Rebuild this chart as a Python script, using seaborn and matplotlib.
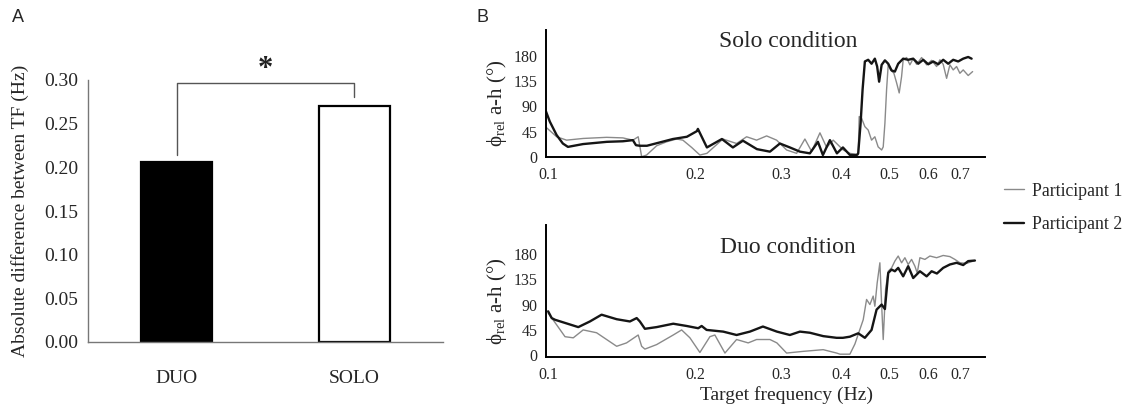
import numpy as np
import pandas as pd
import matplotlib
matplotlib.use("Agg")
import matplotlib.pyplot as plt
from matplotlib.ticker import FixedLocator, FixedFormatter, NullLocator
import seaborn as sns

# ---------------- data ----------------
conditions = ["DUO", "SOLO"]
abs_diff_tf = [0.206, 0.270]

solo_p1_freq = [0.0991, 0.1042, 0.1092, 0.1181, 0.1319, 0.1424, 0.1493, 0.1531, 0.1556, 0.1593,
                0.1670, 0.1750, 0.1835, 0.1890, 0.1970, 0.2048, 0.2117, 0.2283, 0.2435, 0.2553,
                0.2676, 0.2806, 0.2941, 0.3083, 0.3232, 0.3361, 0.3469, 0.3608, 0.3724, 0.3841,
                0.4027, 0.4156, 0.4322, 0.4342, 0.4391, 0.4460, 0.4530, 0.4603, 0.4675, 0.4748,
                0.4827, 0.4863, 0.4902, 0.4941, 0.4979, 0.5035, 0.5114, 0.5180, 0.5244, 0.5303,
                0.5343, 0.5430, 0.5515, 0.5602, 0.5693, 0.5829, 0.5968, 0.6110, 0.6256, 0.6354,
                0.6453, 0.6558, 0.6660, 0.6765, 0.6874, 0.6982, 0.7092, 0.7261, 0.7414]
solo_p1_phase = [53, 36, 30, 33, 35, 34, 30, 36, 0.5, 3.5,
                 20, 27, 32, 30, 17, 3.5, 6.5, 32, 24, 36,
                 30, 37.5, 30, 12.5, 6.5, 32, 10, 43, 17, 30,
                 12.5, 6.5, 4, 72, 69, 54, 48, 30, 36, 18,
                 12.5, 18, 60, 120, 164, 155, 149, 132, 114, 143,
                 173, 177, 164, 175, 165, 177, 164, 172, 161, 173,
                 165, 140, 164, 155, 161, 149, 155, 145, 152]

solo_p2_freq = [0.0991, 0.1009, 0.1042, 0.1073, 0.1099, 0.1180, 0.1321, 0.1424, 0.1493, 0.1515,
                0.1543, 0.1595, 0.1696, 0.1803, 0.1926, 0.2019, 0.2029, 0.2117, 0.2272, 0.2393,
                0.2509, 0.2680, 0.2850, 0.2987, 0.3131, 0.3283, 0.3441, 0.3574, 0.3659, 0.3782,
                0.3909, 0.4021, 0.4156, 0.4295, 0.4322, 0.4371, 0.4412, 0.4460, 0.4530, 0.4603,
                0.4675, 0.4726, 0.4770, 0.4827, 0.4902, 0.4979, 0.5059, 0.5138, 0.5219, 0.5343,
                0.5471, 0.5602, 0.5736, 0.5873, 0.6013, 0.6157, 0.6303, 0.6453, 0.6607, 0.6765,
                0.6926, 0.7092, 0.7261, 0.7379]
solo_p2_phase = [81, 63, 39, 24, 18, 23, 27, 28, 30, 21,
                 20, 20, 26, 32, 36, 46, 50, 17, 32, 17,
                 29, 14, 9.5, 24, 17, 9.5, 6.5, 27, 3.5, 30,
                 6.5, 17, 3.5, 3.6, 6.5, 60, 120, 170, 173, 166,
                 175, 161, 134, 164, 172, 166, 154, 152, 166, 175,
                 173, 175, 166, 173, 165, 170, 165, 173, 166, 173,
                 170, 175, 178, 175]

duo_p1_freq = [0.1001, 0.1042, 0.1084, 0.1127, 0.1181, 0.1258, 0.1319, 0.1383, 0.1449, 0.1531,
               0.1556, 0.1580, 0.1670, 0.1806, 0.1879, 0.1954, 0.2048, 0.2147, 0.2198, 0.2305,
               0.2435, 0.2572, 0.2676, 0.2850, 0.2945, 0.3083, 0.3334, 0.3664, 0.3903, 0.3965,
               0.4156, 0.4255, 0.4425, 0.4496, 0.4567, 0.4638, 0.4675, 0.4726, 0.4787, 0.4827,
               0.4863, 0.4918, 0.4979, 0.5059, 0.5138, 0.5219, 0.5303, 0.5387, 0.5471, 0.5559,
               0.5647, 0.5709, 0.5782, 0.5920, 0.6061, 0.6256, 0.6453, 0.6660, 0.6819, 0.6982,
               0.7206, 0.7434]
duo_p1_phase = [75, 54, 33, 31, 45, 40, 28, 16, 22, 36,
                16, 11, 19, 36, 45, 31, 5, 33, 36, 4,
                28, 22, 28, 28, 22, 4, 7, 10, 4, 2,
                2, 20, 63, 99, 90, 105, 87, 128, 164, 90,
                28, 117, 149, 155, 167, 176, 164, 173, 161, 170,
                158, 146, 173, 170, 176, 173, 177, 175, 170, 164,
                163, 167]

duo_p2_freq = [0.1001, 0.1018, 0.1034, 0.1154, 0.1219, 0.1288, 0.1383, 0.1472, 0.1520, 0.1543,
               0.1580, 0.1670, 0.1806, 0.1924, 0.2032, 0.2065, 0.2114, 0.2286, 0.2435, 0.2593,
               0.2757, 0.2945, 0.3131, 0.3283, 0.3441, 0.3664, 0.3903, 0.4021, 0.4156, 0.4322,
               0.4460, 0.4603, 0.4713, 0.4827, 0.4902, 0.4979, 0.5059, 0.5138, 0.5219, 0.5343,
               0.5471, 0.5602, 0.5782, 0.5968, 0.6110, 0.6264, 0.6453, 0.6660, 0.6874, 0.7092,
               0.7261, 0.7495]
duo_p2_phase = [78, 66, 63, 50, 60, 72, 64, 60, 66, 60,
                47, 50, 56, 52, 48, 52, 45, 42, 36, 42,
                51, 42, 36, 42, 40, 34, 31, 31, 33, 39,
                31, 45, 81, 90, 82, 146, 152, 149, 155, 140,
                158, 137, 149, 140, 149, 145, 155, 161, 164, 160,
                167, 168]

freq_ticks = [0.1, 0.15, 0.2, 0.25, 0.3, 0.35, 0.4, 0.45, 0.5, 0.55, 0.6, 0.65, 0.7, 0.75]
freq_labels = ["0.1", "", "0.2", "", "0.3", "", "0.4", "", "0.5", "", "0.6", "", "0.7", ""]
phase_ticks = [0, 45, 90, 135, 180]
participants = ["Participant 1", "Participant 2"]

# ---------------- style ----------------
sns.set_theme(style="white")
plt.rcParams["font.family"] = ["Liberation Serif", "DejaVu Serif"]
plt.rcParams["mathtext.fontset"] = "custom"
plt.rcParams["mathtext.rm"] = "Liberation Serif"
plt.rcParams["mathtext.it"] = "Liberation Serif:italic"

W, H = 1130, 413
fig = plt.figure(figsize=(W / 100, H / 100), dpi=100)


def box(l, t, r, b):
    return [l / W, 1 - b / H, (r - l) / W, (b - t) / H]


axA = fig.add_axes(box(88, 80, 443, 342))
axT = fig.add_axes(box(546, 30, 985, 157))
axB = fig.add_axes(box(546, 225, 985, 357))

# ---------------- panel A ----------------
dfA = pd.DataFrame({"condition": conditions, "value": abs_diff_tf})
sns.barplot(data=dfA, x="condition", y="value", hue="condition",
            palette={"DUO": "black", "SOLO": "white"}, edgecolor="black",
            linewidth=1.6, width=0.4, ax=axA, legend=False)
axA.set_xlim(-0.5, 1.5)
axA.set_ylim(0, 0.30)
axA.set_yticks(np.arange(0, 0.301, 0.05))
axA.set_yticklabels([f"{v:.2f}" for v in np.arange(0, 0.301, 0.05)])
axA.xaxis.set_major_locator(FixedLocator([-0.5, 0.5, 1.5]))
axA.xaxis.set_major_formatter(FixedFormatter(["", "", ""]))
axA.xaxis.set_minor_locator(FixedLocator([0, 1]))
axA.xaxis.set_minor_formatter(FixedFormatter(conditions))
axA.tick_params(axis="x", which="major", length=5, direction="out", color="#777777", width=1)
axA.tick_params(axis="x", which="minor", length=0, pad=20, labelsize=14)
axA.tick_params(axis="y", length=5, direction="out", color="#777777", width=1, pad=2, labelsize=14)
for s in ["top", "right"]:
    axA.spines[s].set_visible(False)
for s in ["left", "bottom"]:
    axA.spines[s].set_color("#777777")
    axA.spines[s].set_linewidth(1.0)
axA.set_xlabel("")
axA.set_ylabel("Absolute difference between TF (Hz)", fontsize=14)
axA.yaxis.set_label_coords(-0.165, 0.5)
# significance bracket
axA.plot([0, 0, 1, 1], [0.214, 0.297, 0.297, 0.281], color="#555555", lw=1.0, clip_on=False)
axA.text(0.5, 0.312, "*", ha="center", va="center", fontsize=22, fontweight="bold", color="#222222")

# ---------------- panel B ----------------
series = [
    (axT, solo_p1_freq, solo_p1_phase, solo_p2_freq, solo_p2_phase, "Solo condition", 0.906, (0, 226)),
    (axB, duo_p1_freq, duo_p1_phase, duo_p2_freq, duo_p2_phase, "Duo condition", 0.826, (-3, 231)),
]
for ax, f1, p1, f2, p2, title, ty, ylim in series:
    sns.lineplot(x=f1, y=p1, color="#8a8a8a", lw=1.0, ax=ax, estimator=None, sort=False,
                 label=participants[0])
    sns.lineplot(x=f2, y=p2, color="#151515", lw=1.7, ax=ax, estimator=None, sort=False,
                 label=participants[1])
    ax.set_xscale("log")
    ax.set_xlim(0.0991, 0.786)
    ax.set_ylim(*ylim)
    ax.xaxis.set_major_locator(FixedLocator(freq_ticks))
    ax.xaxis.set_major_formatter(FixedFormatter(freq_labels))
    ax.xaxis.set_minor_locator(NullLocator())
    ax.set_yticks(phase_ticks)
    ax.set_yticklabels([str(v) for v in phase_ticks])
    ax.tick_params(axis="x", direction="inout", length=8, width=1.3, color="black", labelsize=11.5, pad=3)
    ax.tick_params(axis="y", direction="inout", length=6, width=1.3, color="black", labelsize=11.5, pad=3)
    for s in ["top", "right"]:
        ax.spines[s].set_visible(False)
    for s in ["left", "bottom"]:
        ax.spines[s].set_color("black")
        ax.spines[s].set_linewidth(1.4)
    ax.set_ylabel("\u03d5$_{\\mathrm{rel}}$ a-h (°)", fontsize=15)
    ax.yaxis.set_label_coords(-0.085, 0.42)
    ax.set_xlabel("")
    ax.text(0.551, ty, title, transform=ax.transAxes, ha="center", va="center", fontsize=17)
    ax.get_legend().remove()

axB.set_xlabel("Target frequency (Hz)", fontsize=14)
axB.xaxis.set_label_coords(0.547, -0.22)

handles, labels = axT.get_legend_handles_labels()
fig.legend(handles, labels, loc="center left", bbox_to_anchor=(1004 / W, 1 - 208 / H),
           frameon=False, fontsize=12.8, handlelength=1.15, handletextpad=0.45,
           labelspacing=0.95, borderpad=0, borderaxespad=0)

# panel letters
fig.text(12 / W, 1 - 18 / H, "A", fontsize=13, family="Liberation Sans", va="center", ha="left")
fig.text(476 / W, 1 - 18 / H, "B", fontsize=13, family="Liberation Sans", va="center", ha="left")

fig.savefig("out.png", dpi=100)
